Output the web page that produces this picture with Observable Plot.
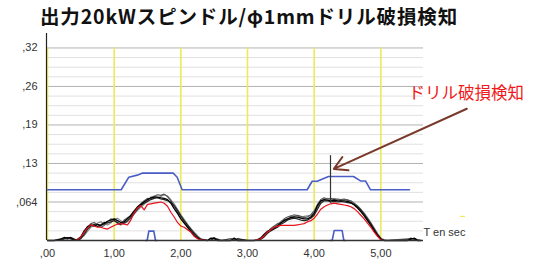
<!DOCTYPE html>
<html><head><meta charset="utf-8">
<script src="https://cdn.jsdelivr.net/npm/d3@7"></script>
<script src="https://cdn.jsdelivr.net/npm/@observablehq/plot@0.6"></script>
<style>
body{margin:0;background:#fff;width:538px;height:261px;overflow:hidden}
#title{font-family:"Noto Sans CJK JP",sans-serif;font-weight:700;font-size:19.5px;height:30px;line-height:32px;padding-left:40px;color:#111;white-space:nowrap}
#chart svg{display:block;overflow:visible}
</style></head><body>
<div id="title"><span>出力20kWスピンドル/φ1mmドリル破損検知</span></div>
<div id="chart"></div>
<script>
// ---- data ----
const titleText = "出力20kWスピンドル/φ1mmドリル破損検知";
const annotationText = "ドリル破損検知";
const xAxisName = "T en sec";
const xTickValues = [0, 1, 2, 3, 4, 5];
const xTickLabels = [",00", "1,00", "2,00", "3,00", "4,00", "5,00"];
const yTickValues = [0.064, 0.128, 0.192, 0.256, 0.32];
const yTickLabels = [",064", ",13", ",19", ",26", ",32"];

const time = [
  0.00, 0.10, 0.20, 0.25, 0.30, 0.35, 0.40, 0.45, 0.50, 0.55,
  0.60, 0.65, 0.70, 0.75, 0.80, 0.85, 0.90, 0.95, 1.00, 1.05,
  1.10, 1.15, 1.20, 1.25, 1.30, 1.35, 1.40, 1.45, 1.50, 1.55,
  1.60, 1.65, 1.70, 1.75, 1.80, 1.85, 1.90, 1.95, 2.00, 2.05,
  2.10, 2.15, 2.20, 2.25, 2.30, 2.40, 2.45, 2.50, 2.55, 2.60,
  2.75, 2.80, 2.85, 3.00, 3.10, 3.15, 3.20, 3.25, 3.30, 3.35,
  3.40, 3.45, 3.50, 3.55, 3.60, 3.65, 3.70, 3.75, 3.80, 3.85,
  3.90, 3.95, 4.00, 4.05, 4.10, 4.15, 4.20, 4.25, 4.30, 4.35,
  4.40, 4.45, 4.50, 4.55, 4.60, 4.65, 4.70, 4.75, 4.80, 4.85,
  4.90, 4.95, 5.00, 5.05, 5.10, 5.40, 5.45, 5.50, 5.55, 5.60
];
const traceA = [
  0, 0, 0.002, 0.005, 0.004, 0.005, 0.001, 0.002, 0.006, 0.016,
  0.023, 0.026, 0.024, 0.027, 0.025, 0.028, 0.032, 0.034, 0.036, 0.033,
  0.030, 0.031, 0.036, 0.042, 0.049, 0.056, 0.060, 0.064, 0.068, 0.071,
  0.072, 0.072, 0.071, 0.070, 0.068, 0.062, 0.053, 0.045, 0.036, 0.029,
  0.022, 0.015, 0.008, 0.004, 0.001, 0, 0.004, 0.003, 0, 0,
  0, 0.004, 0, 0, 0, 0.001, 0.004, 0.010, 0.015, 0.018,
  0.021, 0.025, 0.029, 0.033, 0.036, 0.038, 0.039, 0.039, 0.037, 0.036,
  0.036, 0.039, 0.045, 0.058, 0.066, 0.068, 0.067, 0.066, 0.067, 0.066,
  0.066, 0.066, 0.065, 0.063, 0.059, 0.054, 0.048, 0.041, 0.033, 0.025,
  0.016, 0.008, 0.002, 0, 0, 0, 0.003, 0.003, 0, 0
];
const traceB = [
  0, 0, 0, 0.003, 0.005, 0.003, 0, 0, 0.003, 0.010,
  0.019, 0.024, 0.027, 0.023, 0.026, 0.030, 0.029, 0.031, 0.033, 0.030,
  0.027, 0.029, 0.033, 0.038, 0.045, 0.052, 0.058, 0.062, 0.065, 0.068,
  0.070, 0.071, 0.069, 0.068, 0.066, 0.064, 0.058, 0.050, 0.041, 0.033,
  0.026, 0.019, 0.012, 0.006, 0.002, 0, 0, 0.004, 0.002, 0,
  0, 0, 0.003, 0, 0, 0, 0.002, 0.006, 0.012, 0.016,
  0.019, 0.022, 0.027, 0.030, 0.034, 0.036, 0.037, 0.036, 0.034, 0.033,
  0.034, 0.037, 0.042, 0.052, 0.062, 0.066, 0.066, 0.064, 0.065, 0.064,
  0.065, 0.064, 0.063, 0.062, 0.060, 0.056, 0.051, 0.044, 0.036, 0.028,
  0.019, 0.010, 0.003, 0, 0, 0, 0.002, 0.004, 0.001, 0
];
const traceC = [
  0, 0, 0.003, 0.004, 0.002, 0.005, 0.003, 0, 0.004, 0.013,
  0.021, 0.028, 0.030, 0.026, 0.022, 0.025, 0.031, 0.036, 0.034, 0.028,
  0.026, 0.034, 0.038, 0.040, 0.046, 0.055, 0.061, 0.066, 0.070, 0.069,
  0.073, 0.076, 0.075, 0.077, 0.073, 0.066, 0.057, 0.048, 0.040, 0.031,
  0.024, 0.017, 0.010, 0.005, 0.001, 0, 0.003, 0.005, 0, 0,
  0.003, 0.002, 0, 0, 0, 0, 0.003, 0.008, 0.014, 0.020,
  0.024, 0.028, 0.030, 0.036, 0.039, 0.041, 0.040, 0.042, 0.040, 0.038,
  0.039, 0.043, 0.049, 0.060, 0.068, 0.071, 0.069, 0.070, 0.068, 0.069,
  0.068, 0.069, 0.067, 0.066, 0.062, 0.057, 0.050, 0.043, 0.036, 0.027,
  0.018, 0.009, 0.002, 0, 0, 0.002, 0.004, 0.002, 0, 0
];
const traceD = [
  0, 0, 0, 0.002, 0.004, 0.002, 0, 0.002, 0.004, 0.008,
  0.015, 0.022, 0.025, 0.029, 0.031, 0.027, 0.026, 0.029, 0.035, 0.037,
  0.033, 0.028, 0.031, 0.037, 0.044, 0.050, 0.055, 0.060, 0.066, 0.072,
  0.074, 0.071, 0.073, 0.076, 0.074, 0.068, 0.061, 0.052, 0.043, 0.035,
  0.027, 0.020, 0.014, 0.008, 0.003, 0, 0.002, 0, 0.003, 0,
  0, 0.003, 0.002, 0, 0, 0.002, 0.005, 0.011, 0.016, 0.017,
  0.020, 0.024, 0.032, 0.035, 0.034, 0.040, 0.043, 0.041, 0.038, 0.040,
  0.041, 0.041, 0.047, 0.055, 0.063, 0.069, 0.070, 0.068, 0.070, 0.068,
  0.067, 0.068, 0.068, 0.064, 0.061, 0.058, 0.052, 0.046, 0.038, 0.030,
  0.021, 0.012, 0.004, 0.001, 0, 0.003, 0.002, 0.003, 0, 0
];
const traceRed = [
  0, 0, 0, 0, 0, 0, 0, 0.001, 0.006, 0.014,
  0.021, 0.026, 0.024, 0.022, 0.022, 0.020, 0.019, 0.022, 0.025, 0.027,
  0.028, 0.027, 0.026, 0.034, 0.046, 0.054, 0.058, 0.051, 0.060, 0.061,
  0.062, 0.063, 0.064, 0.062, 0.057, 0.047, 0.039, 0.030, 0.024, 0.022,
  0.018, 0.014, 0.007, 0.003, 0.001, 0, 0, 0, 0, 0,
  0, 0, 0, 0, 0, 0.001, 0.003, 0.008, 0.014, 0.018,
  0.022, 0.024, 0.025, 0.025, 0.025, 0.025, 0.025, 0.026, 0.027, 0.028,
  0.031, 0.033, 0.037, 0.044, 0.052, 0.056, 0.059, 0.061, 0.062, 0.061,
  0.060, 0.059, 0.058, 0.056, 0.053, 0.048, 0.042, 0.036, 0.029, 0.022,
  0.014, 0.007, 0.001, 0, 0, 0, 0, 0, 0, 0
];

const limitTime  = [0, 1.105, 1.22, 1.345, 1.42, 1.885, 1.945, 2.02, 3.895, 3.97, 4.045, 4.215, 4.59, 4.695, 4.77, 4.845, 5.43];
const limitValue = [0.0843, 0.0843, 0.1052, 0.1086, 0.1119, 0.1119, 0.1052, 0.0843, 0.0843, 0.0985, 0.0985, 0.1064, 0.1064, 0.0990, 0.0990, 0.0843, 0.0843];

const pulseGroup = [1, 1, 1, 1, 1, 1, 2, 2, 2, 2, 2, 2];
const pulseTime  = [1.47, 1.495, 1.52, 1.595, 1.62, 1.645, 4.24, 4.27, 4.30, 4.42, 4.445, 4.47];
const pulseValue = [0, 0, 0.0155, 0.0155, 0, 0, 0, 0, 0.0165, 0.0165, 0, 0];

const spikeTime = 4.245;
const spikeLow = 0.062;
const spikeHigh = 0.141;

// ---- build tables ----
const toRows = (vals, s) => time.map((t, i) => ({t, v: vals[i], s}));
const limitRows = limitTime.map((t, i) => ({t, v: limitValue[i]}));
const pulseRows = pulseTime.map((t, i) => ({t, v: pulseValue[i], g: pulseGroup[i]}));
const minorGrid = d3.range(1, 21).map(k => k * 0.016).filter(v => !yTickValues.some(m => Math.abs(m - v) < 1e-6));
const xEnd = 5.64;

const plot = Plot.plot({
  width: 538, height: 231,
  marginLeft: 47, marginRight: 115, marginTop: 3, marginBottom: 21,
  x: {domain: [0, xEnd]},
  y: {domain: [0, 0.344]},
  style: {fontFamily: "'Liberation Sans', Arial, sans-serif", fontSize: "11px", background: "#fff", color: "#333"},
  marks: [
    Plot.ruleY(minorGrid, {x1: 0, x2: xEnd, stroke: "#e0e0e0", strokeWidth: 1}),
    Plot.ruleY(yTickValues, {x1: 0, x2: xEnd, stroke: "#b2b2b2", strokeWidth: 1}),
    Plot.ruleX(xTickValues, {y1: 0, y2: 0.32, stroke: "#efe95a", strokeWidth: 1.6}),
    Plot.ruleX([0], {y1: 0, y2: 0.344, stroke: "#222", strokeWidth: 1.2, dx: -1}),
    Plot.axisY(yTickValues, {tickSize: 0, tickPadding: 10, tickFormat: d => yTickLabels[yTickValues.indexOf(d)], label: null, fill: "#333"}),
    Plot.axisX(xTickValues, {tickSize: 0, tickPadding: 9, tickFormat: d => xTickLabels[xTickValues.indexOf(d)], label: null, fill: "#333"}),
    Plot.line(limitRows, {x: "t", y: "v", stroke: "#4a5ec6", strokeWidth: 1.6}),
    Plot.line(pulseRows, {x: "t", y: "v", z: "g", stroke: "#4a5ec6", strokeWidth: 1.6}),
    Plot.line(toRows(traceD, "D"), {x: "t", y: "v", stroke: "#8a8a8a", strokeWidth: 1.2}),
    Plot.line(toRows(traceC, "C"), {x: "t", y: "v", stroke: "#555", strokeWidth: 1.2}),
    Plot.line(toRows(traceB, "B"), {x: "t", y: "v", stroke: "#222", strokeWidth: 1.2}),
    Plot.line(toRows(traceA, "A"), {x: "t", y: "v", stroke: "#000", strokeWidth: 1.3}),
    Plot.line(toRows(traceRed, "R"), {x: "t", y: "v", stroke: "#e8121c", strokeWidth: 1.2}),
    Plot.ruleY([0], {x1: 0, x2: xEnd, stroke: "#333", strokeWidth: 1.6}),
    Plot.ruleX([spikeTime], {y1: spikeLow, y2: spikeHigh, stroke: "#333", strokeWidth: 1.2}),
    Plot.arrow([{}], {x1: () => 6.29, y1: () => 0.219, x2: () => spikeTime + 0.05, y2: () => 0.119, stroke: "#7a3a2b", strokeWidth: 2, headLength: 11}),
    Plot.text([annotationText], {x: () => 5.415, y: () => 0.244, text: d => d, textAnchor: "start", fill: "#f01818", fontSize: 16.5, fontFamily: "'Noto Sans CJK JP', sans-serif"}),
    Plot.text([xAxisName], {x: () => xEnd, y: () => 0.0133, text: d => d, textAnchor: "start", fill: "#333", fontSize: 11}),
    Plot.ruleY([0.040], {x1: 6.195, x2: 6.27, stroke: "#efe95a", strokeWidth: 1.2})
  ]
});
document.getElementById("chart").appendChild(plot);

function fitTitle() {
  const span = document.querySelector("#title span");
  span.style.letterSpacing = "0px";
  const w = span.getBoundingClientRect().width;
  const n = span.textContent.length;
  span.style.letterSpacing = ((418 - w) / n) + "px";
}
fitTitle();
if (document.fonts && document.fonts.ready) document.fonts.ready.then(fitTitle);
</script>
</body></html>
